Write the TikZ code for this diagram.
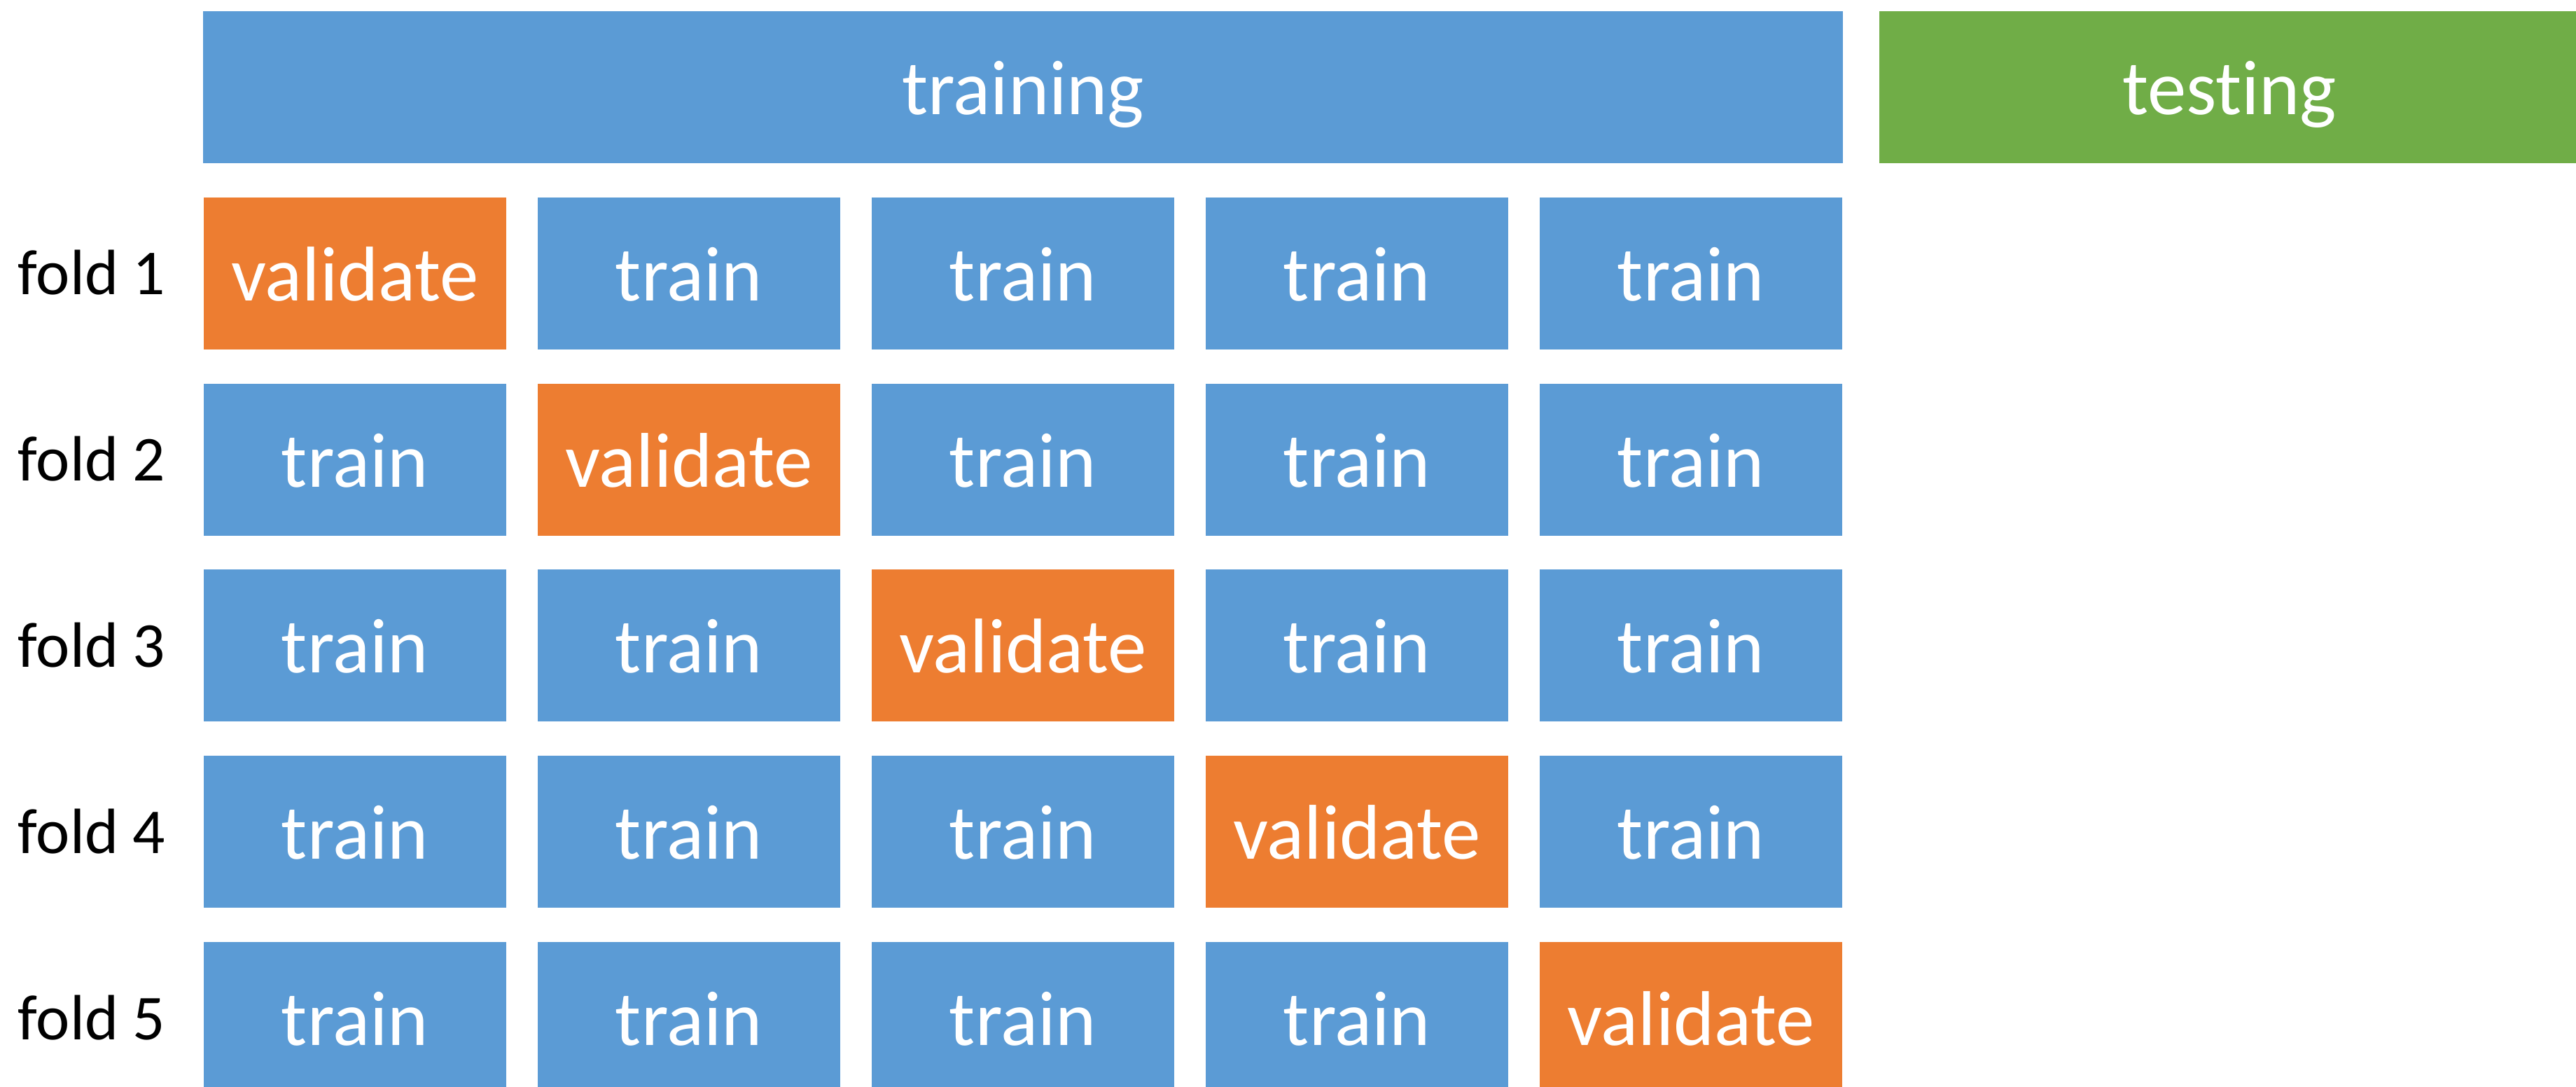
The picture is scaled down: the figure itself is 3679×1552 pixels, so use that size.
\documentclass[tikz,border=0pt]{standalone}
\usepackage{fontspec}
\setmainfont{Carlito}[Ligatures=NoCommon]
\definecolor{cvblue}{HTML}{5B9BD5}
\definecolor{cvorange}{HTML}{ED7D31}
\definecolor{cvgreen}{HTML}{70AD47}
\begin{document}
\begin{tikzpicture}[x=0.01cm, y=-0.01cm,
  cell/.style={rectangle, inner sep=0pt, minimum width=4.32cm, minimum height=2.17cm,
    text=white, font=\fontsize{31.5}{38}\selectfont, text height=0.78cm, text depth=0cm},
  trainbox/.style={cell, fill=cvblue},
  valbox/.style={cell, fill=cvorange},
  foldlabel/.style={inner sep=0pt, font=\fontsize{26}{31}\selectfont,
    text height=0.61cm, text depth=0cm}]
  \useasboundingbox (0,0) rectangle (3679,1552);
  \clip (0,0) rectangle (3679,1552);
  % top bars: full training span and held-out test set
  \node[cell, fill=cvblue, minimum width=23.40cm] (training) at (1461,124.5) {training};
  \node[cell, fill=cvgreen, minimum width=10.00cm] (testing) at (3184,124.5) {testing};
  % one row per fold, the validation block moving along the diagonal
  \foreach \r in {1,...,5} {
    \node[foldlabel] (fold\r) at (131,{124.5+265.8*\r}) {fold \r};
    \foreach \c in {1,...,5} {
      \ifnum\c=\r\def\sty{valbox}\def\txt{validate}\else\def\sty{trainbox}\def\txt{train}\fi
      \node[\sty] (b\r\c) at ({507+477*(\c-1)},{124.5+265.8*\r}) {\txt};
    }
  }
\end{tikzpicture}
\end{document}
